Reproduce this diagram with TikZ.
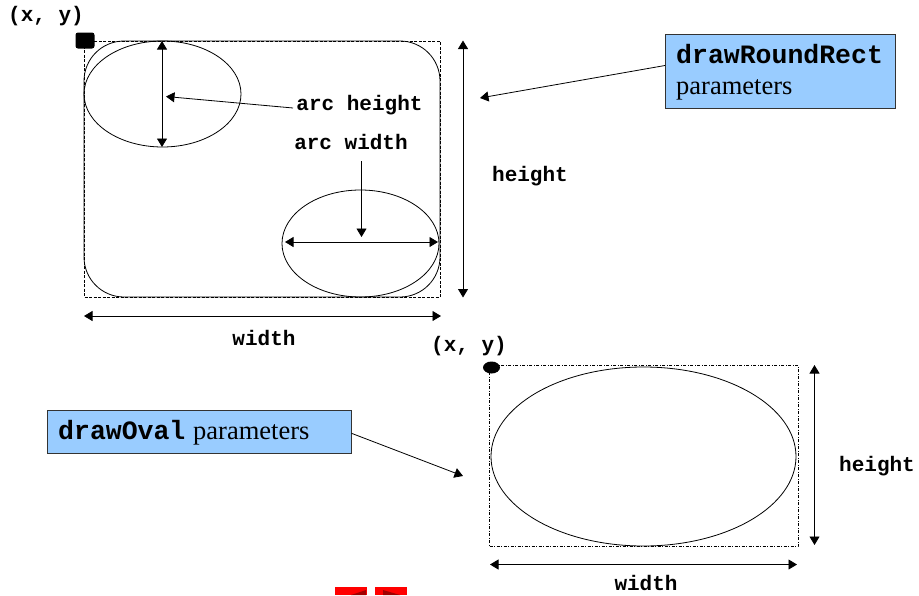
\documentclass[tikz,border=0pt]{standalone}
\usepackage{fontspec}
\setmainfont{Liberation Serif}
\setmonofont{Liberation Mono}
\usetikzlibrary{arrows.meta,shapes.geometric}
\definecolor{boxblue}{HTML}{99CCFF}
\definecolor{btnred}{HTML}{FF0000}
\definecolor{btndark}{HTML}{A00000}
\begin{document}
\begin{tikzpicture}[x=1pt,y=-1pt,
  lbl/.style={font=\fontsize{21}{24}\selectfont\ttfamily\bfseries, inner sep=0pt, anchor=base},
  boxmono/.style={font=\fontsize{26.5}{30}\selectfont\ttfamily\bfseries, inner sep=0pt, anchor=base west},
  boxserif/.style={font=\fontsize{26.5}{30}\selectfont\rmfamily, inner sep=0pt, anchor=base west},
  parambox/.style={draw=black!80, fill=boxblue, line width=0.8pt, inner sep=0pt, anchor=north west},
  tipA/.tip={Triangle[length=8.5pt,width=10pt]},
  both/.style={line width=0.8pt, tipA-tipA},
  onearrow/.style={line width=0.8pt, -tipA},
  guide/.style={line width=0.6pt, dash pattern=on 3pt off 1.5pt},
  guidedot/.style={line width=0.6pt, dash pattern=on 3pt off 1.5pt on 1pt off 1.5pt},
  outline/.style={line width=0.8pt}]
\useasboundingbox (0,0) rectangle (919,595);

% ---------- drawRoundRect ----------
\coordinate (rrTL) at (84,41);
\coordinate (rrBR) at (440,297);
\draw[guide] (rrTL) rectangle (rrBR);
\draw[outline, rounded corners=40pt] (rrTL) rectangle (rrBR);
\node (rrcorner) [fill=black, rounded corners=2.5pt, minimum width=19pt, minimum height=16pt, inner sep=0pt] at (85,40.5) {};
\node (xy1) [lbl] at (46,21.5) {(x, y)};

% arc ellipses
\coordinate (e1c) at (162.5,94);
\coordinate (e2c) at (360.5,243.5);
\draw[outline] (e1c) ellipse [x radius=78.5pt, y radius=53pt];
\draw[outline] (e2c) ellipse [x radius=78.5pt, y radius=53.5pt];

% arc height
\coordinate (ahTop) at (162,41);
\coordinate (ahBot) at (162,147);
\draw[both] (ahTop) -- (ahBot);
\node (archeight) [lbl] at (359.5,110) {arc height};
\coordinate (ahFrom) at (293,108);
\coordinate (ahTip) at (166,96.5);
\draw[onearrow] (ahFrom) -- (ahTip);

% arc width
\node (arcwidth) [lbl] at (351,149) {arc width};
\coordinate (awFrom) at (361.5,161);
\coordinate (awTip) at (361.5,237);
\draw[onearrow] (awFrom) -- (awTip);
\coordinate (awL) at (285,242);
\coordinate (awR) at (438,242);
\draw[both] (awL) -- (awR);

% height / width
\coordinate (rhTop) at (463,40.5);
\coordinate (rhBot) at (463,297.5);
\draw[both] (rhTop) -- (rhBot);
\node (rheight) [lbl] at (530,181) {height};
\coordinate (rwL) at (84,316);
\coordinate (rwR) at (441,316);
\draw[both] (rwL) -- (rwR);
\node (rwidth) [lbl] at (264,345) {width};

% parameter box
\node (rrbox) [parambox, minimum width=230pt, minimum height=74pt] at (665,34) {};
\node (rrt1) [boxmono] at (676,63) {drawRoundRect};
\node (rrt2) [boxserif] at (676,94) {parameters};
\coordinate (rrFrom) at (665,65.5);
\coordinate (rrTip) at (480,98);
\draw[onearrow] (rrFrom) -- (rrTip);

% ---------- drawOval ----------
\coordinate (ovTL) at (489,365);
\coordinate (ovBR) at (798,546.5);
\draw[guidedot] (ovTL) rectangle (ovBR);
\coordinate (ovc) at (643.5,456.5);
\draw[outline] (ovc) ellipse [x radius=152.5pt, y radius=89.5pt];
\node (ovcorner) [fill=black, ellipse, minimum width=17pt, minimum height=12pt, inner sep=0pt] at (491.5,367.5) {};
\node (xy2) [lbl] at (469,351.5) {(x, y)};

\coordinate (ohTop) at (814.5,365);
\coordinate (ohBot) at (814.5,545);
\draw[both] (ohTop) -- (ohBot);
\node (oheight) [lbl] at (877,471.5) {height};
\coordinate (owL) at (490,564.5);
\coordinate (owR) at (797,564.5);
\draw[both] (owL) -- (owR);
\node (owidth) [lbl] at (646,590.5) {width};

\node (ovbox) [parambox, minimum width=304.5pt, minimum height=42.5pt] at (46.7,410) {};
\node (ovt1) [boxmono] at (58,439.3) {drawOval};
\node (ovt2) [boxserif] at (193,439.3) {parameters};
\coordinate (ovFrom) at (351.5,433.3);
\coordinate (ovTip) at (463,476);
\draw[onearrow] (ovFrom) -- (ovTip);

% ---------- navigation buttons (cut off) ----------
\fill[btnred] (335,586.7) rectangle (367,595);
\fill[btndark] (351,595) -- (366,590) -- (366,595) -- cycle;
\fill[btnred] (375,586.7) rectangle (407,595);
\fill[btndark] (383,590) -- (400,595) -- (383,595) -- cycle;
\end{tikzpicture}
\end{document}
